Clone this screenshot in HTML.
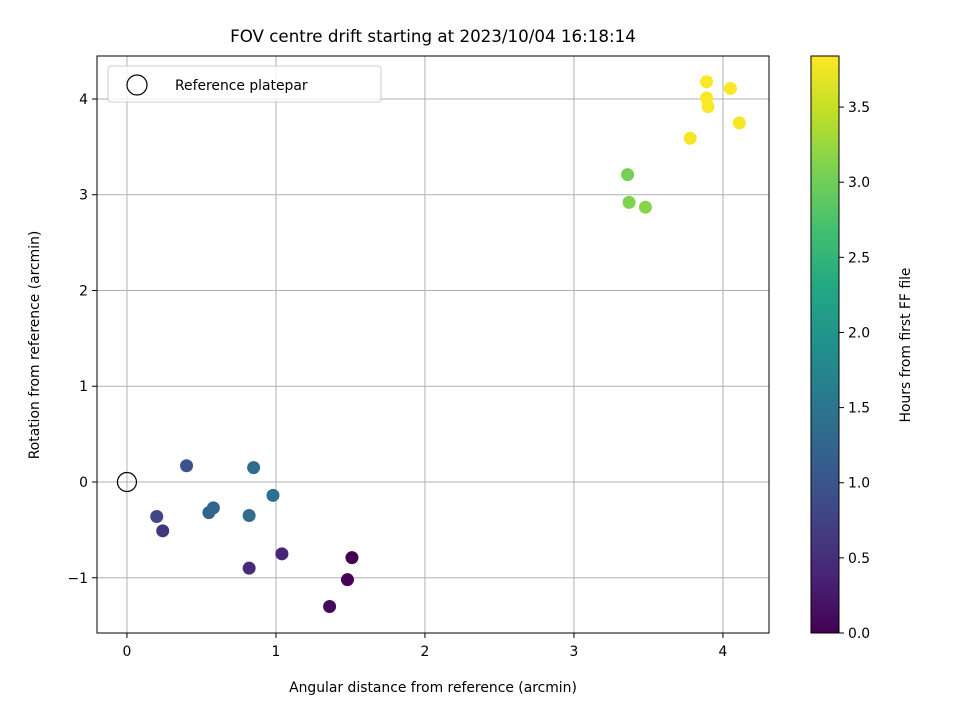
<!DOCTYPE html>
<html><head><meta charset="utf-8"><style>body{margin:0;background:#fff}svg{font-family:"DejaVu Sans","Liberation Sans",sans-serif}</style></head>
<body>
<svg id="chart" width="960" height="720" xmlns="http://www.w3.org/2000/svg">
<defs><linearGradient id="vir" x1="0" y1="1" x2="0" y2="0"></linearGradient></defs>
<text x="433" y="42" font-size="16.7" text-anchor="middle">FOV centre drift starting at 2023/10/04 16:18:14</text>
<g id="grid"></g><g id="pts"></g><g id="axes"></g>
</svg>
<script>
const xs=[1.51,1.48,1.36,1.04,0.82,0.24,0.20,0.40,0.55,0.58,0.82,0.85,0.98,3.36,3.37,3.48,3.78,3.89,3.89,3.90,4.05,4.11];
const ys=[-0.79,-1.02,-1.30,-0.75,-0.90,-0.51,-0.36,0.17,-0.32,-0.27,-0.35,0.15,-0.14,3.21,2.92,2.87,3.59,4.18,4.01,3.92,4.11,3.75];
const hrs=[0.0,0.02,0.1,0.4,0.45,0.6,0.8,1.0,1.2,1.25,1.35,1.4,1.45,3.05,3.1,3.15,3.8,3.82,3.82,3.82,3.83,3.8];
const xTicks=[0,1,2,3,4];
const yTicks=[-1,0,1,2,3,4];
const cTicks=[0.0,0.5,1.0,1.5,2.0,2.5,3.0,3.5];
const NS="http://www.w3.org/2000/svg";
const L=97,R=769,T=56,B=633,xmin=-0.201,xmax=4.309,ymin=-1.577,ymax=4.449,cmax=3.84;
const X=v=>L+(v-xmin)/(xmax-xmin)*(R-L);
const Y=v=>B-(v-ymin)/(ymax-ymin)*(B-T);
const vs=["#440154","#482475","#414487","#355f8d","#2a788e","#21918c","#22a884","#44bf70","#7ad151","#bddf26","#fde725"];
function hex(c){return [1,3,5].map(i=>parseInt(c.substr(i,2),16));}
function vir(t){t=Math.max(0,Math.min(1,t));const f=t*10,i=Math.min(9,Math.floor(f)),r=f-i;const a=hex(vs[i]),b=hex(vs[i+1]);return "rgb("+a.map((v,k)=>Math.round(v+(b[k]-v)*r)).join(",")+")";}
function el(tag,at,parent,txt){const e=document.createElementNS(NS,tag);for(const k in at)e.setAttribute(k,at[k]);if(txt!==undefined)e.textContent=txt;parent.appendChild(e);return e;}
const svg=document.getElementById('chart'),grid=document.getElementById('grid'),pts=document.getElementById('pts'),ax=document.getElementById('axes');
const grad=document.getElementById('vir');
vs.forEach((c,i)=>el('stop',{offset:(i*10)+'%','stop-color':c},grad));
xTicks.forEach(v=>{const x=X(v);
const g=el('line',{x1:x,x2:x,y1:T,y2:B,stroke:'#b0b0b0','stroke-width':1},grid);
el('line',{x1:x,x2:x,y1:B,y2:B+5,stroke:'#000'},ax);
const t=el('text',{x:x,y:B+23,'font-size':13.9,'text-anchor':'middle'},ax,String(v));});
yTicks.forEach(v=>{const y=Y(v);
const g=el('line',{x1:L,x2:R,y1:y,y2:y,stroke:'#b0b0b0','stroke-width':1},grid);
el('line',{x1:L-5,x2:L,y1:y,y2:y,stroke:'#000'},ax);
const t=el('text',{x:L-9,y:y+5,'font-size':13.9,'text-anchor':'end'},ax,v<0?'\u2212'+(-v):String(v));});
xs.forEach((v,i)=>{const c=el('circle',{cx:X(v),cy:Y(ys[i]),r:6.5,fill:vir(hrs[i]/cmax)},pts);});
const rp=el('circle',{cx:X(0),cy:Y(0),r:9.5,fill:'none',stroke:'#000','stroke-width':1.2},pts);
const fr=el('rect',{x:L,y:T,width:R-L,height:B-T,fill:'none',stroke:'#000','stroke-width':1},ax);
const xl=el('text',{x:433,y:692,'font-size':13.9,'text-anchor':'middle'},ax,'Angular distance from reference (arcmin)');
const yl=el('text',{x:0,y:0,'font-size':13.9,'text-anchor':'middle',transform:'translate(39,345) rotate(-90)'},ax,'Rotation from reference (arcmin)');
const lg=el('g',{},ax);
el('rect',{x:108,y:66,width:273,height:36,rx:3,fill:'#fff','fill-opacity':0.8,stroke:'#ccc'},lg);
el('circle',{cx:137,cy:85,r:10,fill:'none',stroke:'#000','stroke-width':1.2},lg);
el('text',{x:175,y:90,'font-size':13.9},lg,'Reference platepar');
const cb=el('rect',{x:811,y:T,width:28,height:B-T,fill:'url(#vir)',stroke:'#000'},ax);
const C=v=>B-v/cmax*(B-T);
cTicks.forEach(v=>{const y=C(v);el('line',{x1:839,x2:844,y1:y,y2:y,stroke:'#000'},ax);
const t=el('text',{x:848,y:y+5,'font-size':13.9},ax,v.toFixed(1));});
const cl=el('text',{x:0,y:0,'font-size':13.9,'text-anchor':'middle',transform:'translate(910,345) rotate(-90)'},ax,'Hours from first FF file');
</script>
</body></html>
